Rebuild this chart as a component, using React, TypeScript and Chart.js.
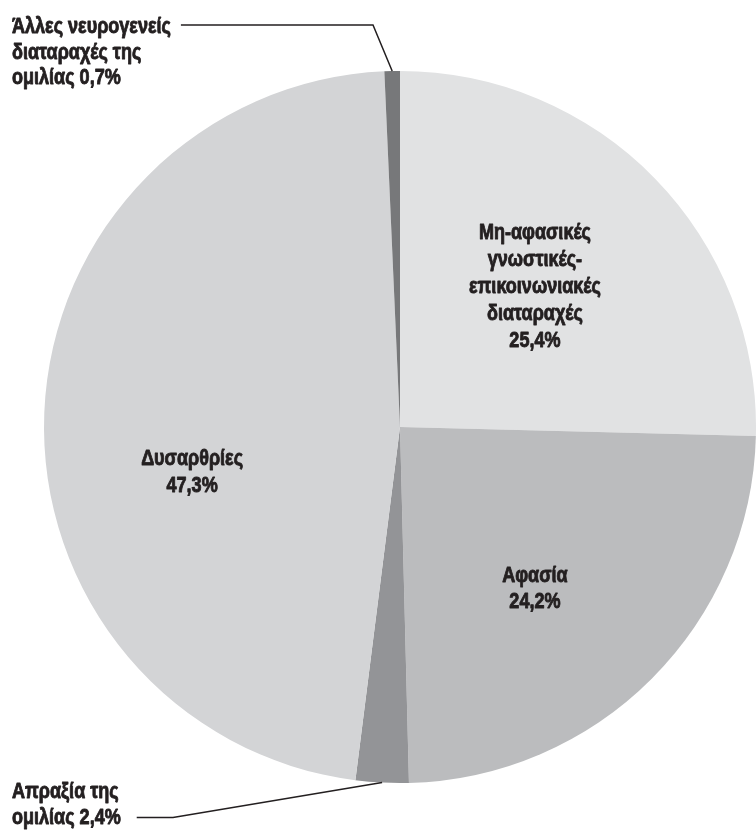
import React, { useEffect, useRef } from "react";
import { Chart, registerables } from "chart.js";

Chart.register(...registerables);

const CATEGORIES: string[][] = [
  ["Μη-αφασικές", "γνωστικές-", "επικοινωνιακές", "διαταραχές"],
  ["Αφασία"],
  ["Απραξία της", "ομιλίας"],
  ["Δυσαρθρίες"],
  ["Άλλες νευρογενείς", "διαταραχές της", "ομιλίας"],
];
const VALUES: number[] = [25.4, 24.2, 2.4, 47.3, 0.7];
const VALUE_LABELS: string[] = ["25,4%", "24,2%", "2,4%", "47,3%", "0,7%"];
const COLORS: string[] = ["#e1e2e3", "#bbbcbe", "#939497", "#d3d4d6", "#77787a"];

type Inside = { kind: "in"; fx: number; fy: number };
type Outside = { kind: "out"; x: number; firstBaseline: number; leaderLine: number; gap: number; kneeX: number; kneeDy: number };
const LAYOUT: (Inside | Outside)[] = [
  { kind: "in", fx: 0.379, fy: -0.396 },
  { kind: "in", fx: 0.379, fy: 0.452 },
  { kind: "out", x: 12, firstBaseline: 798, leaderLine: 1, gap: 16, kneeX: 173, kneeDy: -6 },
  { kind: "in", fx: -0.584, fy: 0.126 },
  { kind: "out", x: 12, firstBaseline: 33, leaderLine: 0, gap: 10, kneeX: 373, kneeDy: -8 },
];

const FONT = "bold 22px 'Liberation Sans', Arial, sans-serif";
const SX = 0.82;
const TEXT_COLOR = "#231f20";
const LINE_H = 26.8;
const OUT_LINE_H = 25.5;

function drawText(ctx: CanvasRenderingContext2D, t: string, x: number, y: number, align: "left" | "center") {
  const w = ctx.measureText(t).width * SX;
  const left = align === "center" ? x - w / 2 : x;
  ctx.save();
  ctx.translate(left, y);
  ctx.scale(SX, 1);
  ctx.textAlign = "left";
  ctx.lineWidth = 0.9;
  ctx.lineJoin = "round";
  ctx.strokeText(t, 0, 0);
  ctx.fillText(t, 0, 0);
  ctx.restore();
  return w;
}

const labelPlugin = {
  id: "sliceLabels",
  afterDatasetsDraw(chart: any) {
    const ctx: CanvasRenderingContext2D = chart.ctx;
    const meta = chart.getDatasetMeta(0);
    ctx.save();
    ctx.font = FONT;
    ctx.fillStyle = TEXT_COLOR;
    ctx.strokeStyle = TEXT_COLOR;
    ctx.textBaseline = "alphabetic";
    meta.data.forEach((arc: any, i: number) => {
      const lay = LAYOUT[i];
      const cx = arc.x;
      const cy = arc.y;
      const r = arc.outerRadius;
      if (lay.kind === "in") {
        const lines = [...CATEGORIES[i], VALUE_LABELS[i]];
        const px = cx + lay.fx * r;
        const py = cy + lay.fy * r;
        const b1 = py - ((lines.length - 1) * LINE_H) / 2 + 7;
        lines.forEach((t, k) => drawText(ctx, t, px, b1 + k * LINE_H, "center"));
      } else {
        const lines = [...CATEGORIES[i]];
        lines[lines.length - 1] = lines[lines.length - 1] + " " + VALUE_LABELS[i];
        const widths = lines.map((t, k) => drawText(ctx, t, lay.x, lay.firstBaseline + k * OUT_LINE_H, "left"));
        const w = widths[lay.leaderLine];
        const ly = lay.firstBaseline + lay.leaderLine * OUT_LINE_H + lay.kneeDy;
        const mid = (arc.startAngle + arc.endAngle) / 2;
        const ex = cx + Math.cos(mid) * r;
        const ey = cy + Math.sin(mid) * r;
        ctx.lineWidth = 1.5;
        ctx.beginPath();
        ctx.moveTo(lay.x + w + lay.gap, ly);
        ctx.lineTo(lay.kneeX, ly);
        ctx.lineTo(ex, ey);
        ctx.stroke();
      }
    });
    ctx.restore();
  },
};

export default function App() {
  const ref = useRef<HTMLCanvasElement | null>(null);
  useEffect(() => {
    if (!ref.current) return;
    const chart = new Chart(ref.current, {
      type: "pie",
      data: {
        labels: CATEGORIES.map((c) => c.join(" ")),
        datasets: [
          {
            data: VALUES,
            backgroundColor: COLORS,
            borderWidth: 0,
            hoverBorderWidth: 0,
            hoverOffset: 0,
            offset: 0,
          },
        ],
      },
      options: {
        responsive: false,
        animation: false,
        devicePixelRatio: 1,
        events: [],
        layout: { padding: { left: 44, right: 0, top: 71, bottom: 47 } },
        plugins: { legend: { display: false }, tooltip: { enabled: false } },
      },
      plugins: [labelPlugin],
    });
    return () => chart.destroy();
  }, []);
  return (
    <div style={{ position: "fixed", left: 0, top: 0, width: 756, height: 830, background: "#fff" }}>
      <canvas ref={ref} width={756} height={830} style={{ display: "block" }} />
    </div>
  );
}
